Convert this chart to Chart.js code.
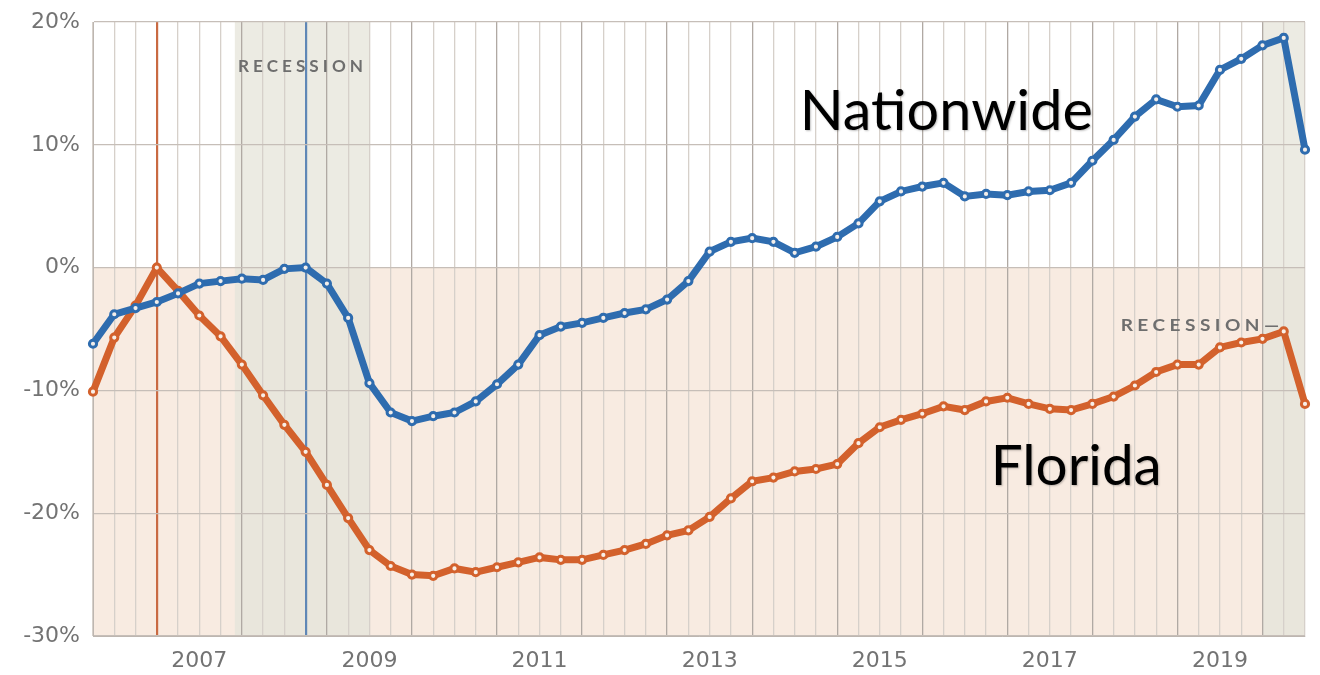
<!DOCTYPE html>
<html><head><meta charset="utf-8">
<script src="https://cdn.jsdelivr.net/npm/chart.js@4"></script>
<style>html,body{margin:0;padding:0;background:#fff}#wrap{width:1320px;height:675px;position:relative}canvas{display:block}</style>
</head><body><div id="wrap"><canvas id="c" width="1320" height="675" style="width:1320px;height:675px"></canvas></div>
<script>
// ---- DATA ----
const quarters = [
 '2006 Q2','2006 Q3','2006 Q4',
 '2007 Q1','2007 Q2','2007 Q3','2007 Q4',
 '2008 Q1','2008 Q2','2008 Q3','2008 Q4',
 '2009 Q1','2009 Q2','2009 Q3','2009 Q4',
 '2010 Q1','2010 Q2','2010 Q3','2010 Q4',
 '2011 Q1','2011 Q2','2011 Q3','2011 Q4',
 '2012 Q1','2012 Q2','2012 Q3','2012 Q4',
 '2013 Q1','2013 Q2','2013 Q3','2013 Q4',
 '2014 Q1','2014 Q2','2014 Q3','2014 Q4',
 '2015 Q1','2015 Q2','2015 Q3','2015 Q4',
 '2016 Q1','2016 Q2','2016 Q3','2016 Q4',
 '2017 Q1','2017 Q2','2017 Q3','2017 Q4',
 '2018 Q1','2018 Q2','2018 Q3','2018 Q4',
 '2019 Q1','2019 Q2','2019 Q3','2019 Q4',
 '2020 Q1','2020 Q2','2020 Q3'
];
const nationwide = [
 -6.2,-3.8,-3.3,
 -2.8,-2.1,-1.3,-1.1,
 -0.9,-1.0,-0.1,0.0,
 -1.3,-4.1,-9.4,-11.8,
 -12.5,-12.1,-11.8,-10.9,
 -9.5,-7.9,-5.5,-4.8,
 -4.5,-4.1,-3.7,-3.4,
 -2.6,-1.1,1.3,2.1,
 2.4,2.1,1.2,1.7,
 2.5,3.6,5.4,6.2,
 6.6,6.9,5.8,6.0,
 5.9,6.2,6.3,6.9,
 8.7,10.4,12.3,13.7,
 13.1,13.2,16.1,17.0,
 18.1,18.7,9.6
];
const florida = [
 -10.1,-5.7,-3.1,
 0.0,-1.9,-3.9,-5.6,
 -7.9,-10.4,-12.8,-15.0,
 -17.7,-20.4,-23.0,-24.3,
 -25.0,-25.1,-24.5,-24.8,
 -24.4,-24.0,-23.6,-23.8,
 -23.8,-23.4,-23.0,-22.5,
 -21.8,-21.4,-20.3,-18.8,
 -17.4,-17.1,-16.6,-16.4,
 -16.0,-14.3,-13.0,-12.4,
 -11.9,-11.3,-11.6,-10.9,
 -10.6,-11.1,-11.5,-11.6,
 -11.1,-10.5,-9.6,-8.5,
 -7.9,-7.9,-6.5,-6.1,
 -5.8,-5.2,-11.1
];
const yearLabels = ['2007','2009','2011','2013','2015','2017','2019'];
const yTickValues = [-30,-20,-10,0,10,20];
const floridaPeakQuarter = '2007 Q1';
const nationwidePeakQuarter = '2008 Q4';
// recession periods as quarter index positions (Dec 2007 - Jun 2009, 2020)
const recessionStart = [6.67, 55];
const recessionEnd = [13, 57];

// ---- PLUGINS ----
const bgPlugin = {
  id: 'bg',
  beforeDraw(chart, args, o) {
    const {ctx, chartArea: a, scales: {x, y}} = chart;
    const y0 = y.getPixelForValue(0);
    ctx.save();
    ctx.fillStyle = '#ffffff';
    ctx.fillRect(a.left, a.top, a.width, y0 - a.top);
    ctx.fillStyle = o.negColor;
    ctx.fillRect(a.left, y0, a.width, a.bottom - y0);
    recessionStart.forEach((s, i) => {
      const xs = x.getPixelForValue(s), xe = x.getPixelForValue(recessionEnd[i]);
      ctx.fillStyle = o.recAbove;
      ctx.fillRect(xs, a.top, xe - xs, y0 - a.top);
      ctx.fillStyle = o.recBelow;
      ctx.fillRect(xs, y0, xe - xs, a.bottom - y0);
    });
    ctx.restore();
  }
};

function fitText(ctx, text, x, y, width) {
  const w = ctx.measureText(text).width;
  ctx.save();
  ctx.translate(x, y);
  ctx.scale(width / w, 1);
  ctx.fillText(text, 0, 0);
  ctx.restore();
}

const labelPlugin = {
  id: 'labels',
  beforeDatasetsDraw(chart, args, o) {
    const {ctx, scales: {x, y}} = chart;
    ctx.save();
    ctx.fillStyle = '#6e6e6e';
    ctx.font = 'bold 17px Lato';
    ctx.letterSpacing = '4px';
    ctx.textBaseline = 'middle';
    ctx.textAlign = 'left';
    o.recLabels.forEach(l => {
      fitText(ctx, l.text, x.getPixelForValue(l.x), y.getPixelForValue(l.y), l.w);
    });
    ctx.restore();
  },
  afterDatasetsDraw(chart, args, o) {
    const {ctx, scales: {x, y}} = chart;
    ctx.save();
    ctx.fillStyle = '#000000';
    ctx.font = '56px Lato';
    ctx.textBaseline = 'alphabetic';
    ctx.textAlign = 'left';
    ctx.shadowColor = 'rgba(0,0,0,0.25)';
    ctx.shadowBlur = 2;
    ctx.shadowOffsetX = 1; ctx.shadowOffsetY = 1;
    o.bigLabels.forEach(l => {
      fitText(ctx, l.text, x.getPixelForValue(l.x), y.getPixelForValue(l.y), l.w);
    });
    ctx.restore();
  }
};

const BLUE = '#2e6caf';
const ORANGE = '#d3612c';

new Chart(document.getElementById('c'), {
  type: 'line',
  data: {
    labels: quarters,
    datasets: [
      {label: 'Nationwide', data: nationwide, borderColor: BLUE, borderWidth: 7,
       pointRadius: 3.6, pointBorderWidth: 3, pointBackgroundColor: '#f3eeea',
       pointBorderColor: BLUE, tension: 0, clip: false},
      {label: 'Florida', data: florida, borderColor: ORANGE, borderWidth: 7,
       pointRadius: 3.6, pointBorderWidth: 3, pointBackgroundColor: '#f8efe8',
       pointBorderColor: ORANGE, tension: 0, clip: false}
    ]
  },
  options: {
    responsive: false,
    maintainAspectRatio: false,
    animation: false,
    devicePixelRatio: 1,
    layout: {padding: {top: 22, right: 15, left: 0, bottom: 0}},
    plugins: {
      legend: {display: false},
      tooltip: {enabled: false},
      bg: {negColor: '#f8ebe1', recAbove: '#ecebe3', recBelow: '#e9e6dc'},
      labels: {
        recLabels: [
          {text: 'RECESSION', x: 6.82, y: 16.4, w: 129},
          {text: 'RECESSION\u2014', x: 48.33, y: -4.68, w: 163}
        ],
        bigLabels: [
          {text: 'Nationwide', x: 33.24, y: 11.24, w: 293},
          {text: 'Florida', x: 42.22, y: -17.74, w: 171}
        ]
      }
    },
    scales: {
      x: {
        type: 'category',
        offset: false,
        afterFit(s) { s.height = 39; s.paddingLeft = 0; s.paddingRight = 0; },
        border: {display: true, color: '#bdb6b0', width: 1},
        grid: {
          drawTicks: false,
          color: ctx => {
            const q = quarters[ctx.index];
            if (q === floridaPeakQuarter) return '#c96a42';
            if (q === nationwidePeakQuarter) return '#5f87b6';
            return (q && q.endsWith('Q1')) ? '#b0a9a3' : '#d6d0ca';
          },
          lineWidth: ctx => {
            const q = quarters[ctx.index];
            return (q === floridaPeakQuarter || q === nationwidePeakQuarter) ? 2.2 : 1.3;
          }
        },
        ticks: {
          autoSkip: false, maxRotation: 0, minRotation: 0, padding: 12,
          color: '#737373',
          font: {family: 'DejaVu Sans', size: 22},
          callback: (v, i) => {
            const q = quarters[i];
            const yr = q.slice(0, 4);
            return (q.endsWith('Q3') && yearLabels.includes(yr)) ? yr : '';
          }
        }
      },
      y: {
        min: -30, max: 20,
        afterFit(s) { s.width = 93; s.paddingTop = 0; s.paddingBottom = 0; },
        afterBuildTicks(s) { s.ticks = yTickValues.map(v => ({value: v})); },
        border: {display: true, color: '#bdb6b0', width: 1},
        grid: {drawTicks: false, color: '#c6beb8', lineWidth: 1.3},
        ticks: {
          padding: 13,
          color: '#737373',
          font: {family: 'DejaVu Sans', size: 22},
          callback: v => v + '%'
        }
      }
    }
  },
  plugins: [bgPlugin, labelPlugin]
});
</script></body></html>
